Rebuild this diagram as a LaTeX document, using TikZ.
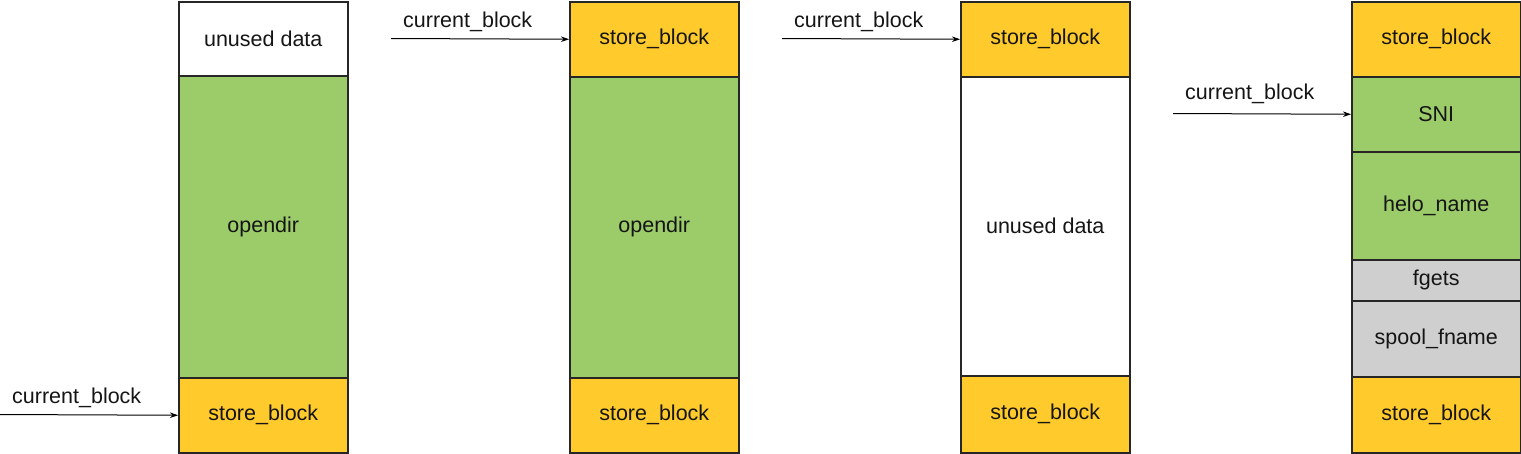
\documentclass[tikz,border=0pt]{standalone}
\usepackage{fontspec}
\setmainfont{Liberation Sans}
\usetikzlibrary{arrows.meta}
\definecolor{yel}{HTML}{FFCA2C}
\definecolor{grn}{HTML}{9CCB69}
\definecolor{gry}{HTML}{CFCFCF}
\definecolor{edge}{HTML}{262626}
\definecolor{txt}{HTML}{151515}
\begin{document}
\begin{tikzpicture}[x=1pt,y=-1pt,
  blk/.style={draw=edge, line width=1.5pt, minimum width=169pt, anchor=north west,
    inner sep=0pt, text=txt, font=\fontsize{21.5}{25}\selectfont},
  yb/.style={blk, fill=yel},
  gb/.style={blk, fill=grn},
  wb/.style={blk, fill=white},
  sb/.style={blk, fill=gry},
  lbl/.style={anchor=west, inner sep=0pt, text=txt, font=\fontsize{21.5}{25}\selectfont},
  arr/.style={draw=black, line width=1pt, -{Stealth[length=8pt,width=5.5pt]}}
]
\useasboundingbox (0,0) rectangle (1521,453);
% column 1
\node[wb, minimum height=74pt]  (a1) at (178,1)   {unused data};
\node[gb, minimum height=302pt] (a2) at (178,75)  {opendir};
\node[yb, minimum height=75pt]  (a3) at (178,377) {store\_block};
% column 2
\node[yb, minimum height=75pt]  (b1) at (569,1)   {store\_block};
\node[gb, minimum height=301pt] (b2) at (569,76)  {opendir};
\node[yb, minimum height=75pt]  (b3) at (569,377) {store\_block};
% column 3
\node[yb, minimum height=75pt]  (c1) at (960,1)   {store\_block};
\node[wb, minimum height=299pt] (c2) at (960,76)  {unused data};
\node[yb, minimum height=77pt]  (c3) at (960,375) {store\_block};
% column 4
\node[yb, minimum height=75pt]  (d1) at (1351,1)   {store\_block};
\node[gb, minimum height=75pt]  (d2) at (1351,76)  {SNI};
\node[gb, minimum height=108pt] (d3) at (1351,151) {helo\_name};
\node[sb, minimum height=41pt]  (d4) at (1351,259) {fgets};
\node[sb, minimum height=76pt]  (d5) at (1351,300) {spool\_fname};
\node[yb, minimum height=76pt]  (d6) at (1351,376) {store\_block};
% pointers
\coordinate (s1) at (0,414.5);
\coordinate (s2) at (391,38.5);
\coordinate (s3) at (782,38.5);
\coordinate (s4) at (1173,113.5);
\draw[arr] (s1) -- (a3.west);
\draw[arr] (s2) -- (b1.west);
\draw[arr] (s3) -- (c1.west);
\draw[arr] (s4) -- (d2.west);
\node[lbl] (l1) at (12,398)   {current\_block};
\node[lbl] (l2) at (403,22)   {current\_block};
\node[lbl] (l3) at (794,22)   {current\_block};
\node[lbl] (l4) at (1185,94)  {current\_block};
\end{tikzpicture}
\end{document}
